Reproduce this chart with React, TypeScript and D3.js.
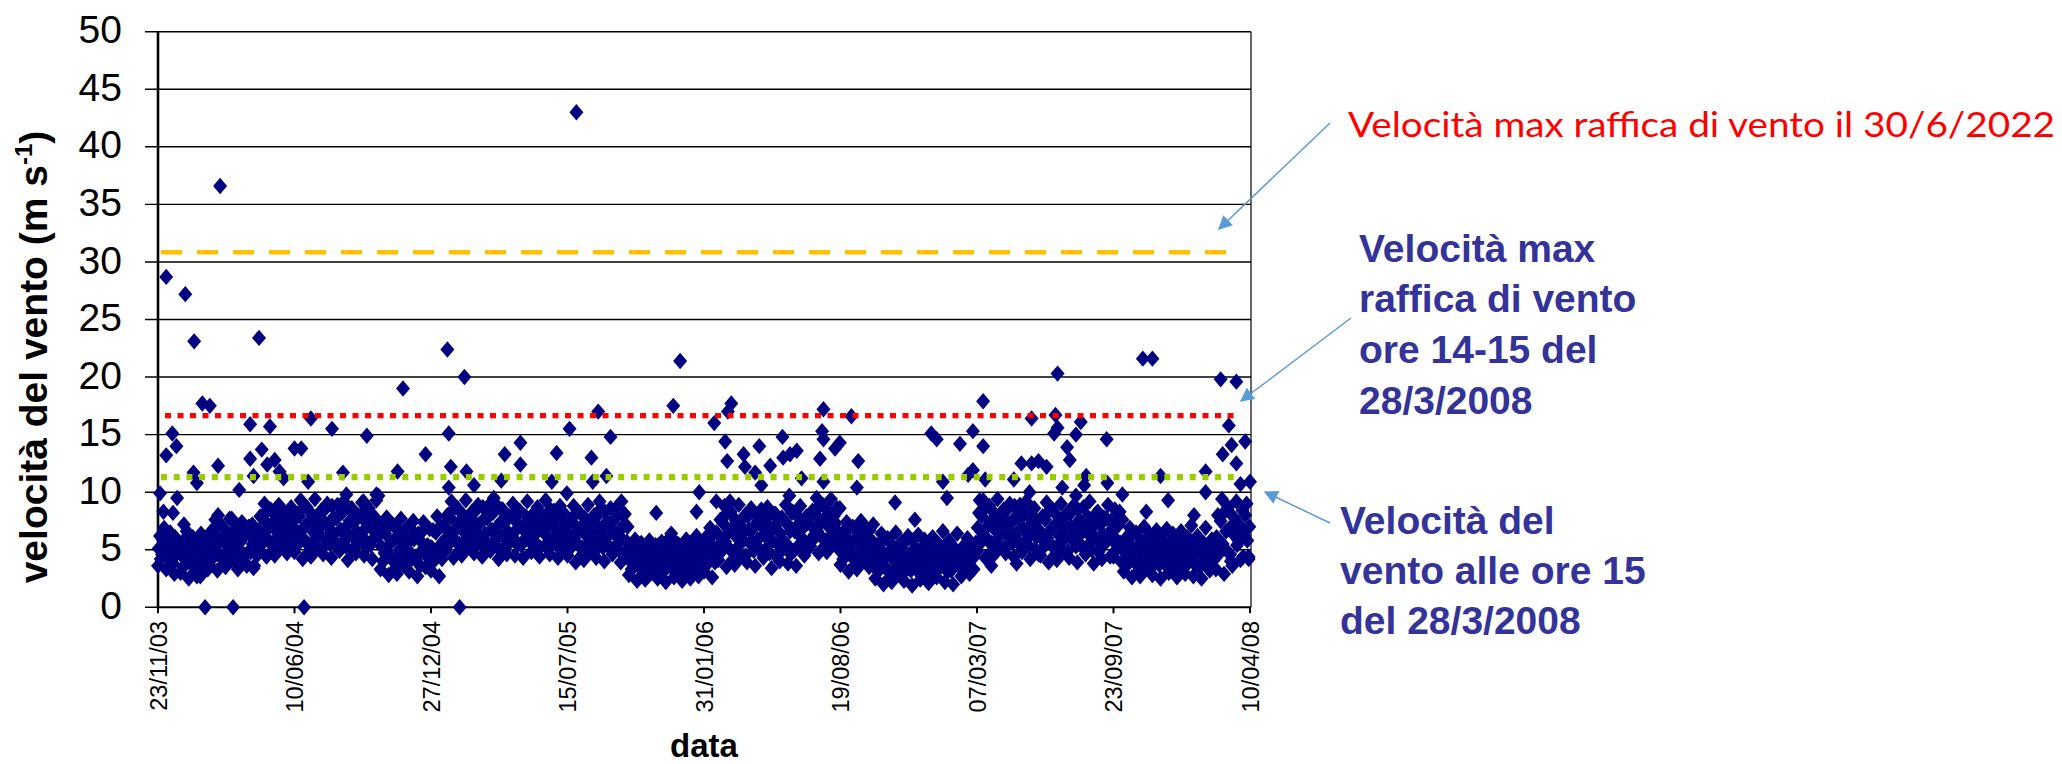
import React from "react";
import * as d3 from "d3";

const W = 2062;
const H = 764;

// x axis: dates, ticks every 200 days
const xTickLabels = ["23/11/03", "10/06/04", "27/12/04", "15/07/05", "31/01/06", "19/08/06", "07/03/07", "23/09/07", "10/04/08"];
const yTicks = [0, 5, 10, 15, 20, 25, 30, 35, 40, 45, 50];
const stepDays = 3;

// wind speed (m/s), one value every 3 days from each tick date
const wind0 = [3.6, 6.2, 4.6, 6.9, 3.3, 5.4, 6.5, 4.2, 2.9, 5.8, 4.9,
  3.0, 5.7, 4.2, 6.6, 2.5, 4.8, 6.1, 3.7, 2.7, 5.2, 6.4, 3.4, 4.5, 5.9,
  3.7, 6.6, 4.9, 7.6, 3.2, 5.6, 7.1, 4.4, 3.5, 6.2, 7.7, 4.1, 5.3, 6.9, 3.3, 5.9, 7.4, 4.6, 3.8, 6.4, 5.0, 7.2, 3.6, 5.5,
  4.9, 7.9, 6.0, 9.0, 4.4, 6.9, 8.5, 5.6, 4.5, 7.4, 8.9, 5.2, 6.5, 8.2, 4.7, 7.1, 8.7, 5.9];
const wind1 = [4.8, 8.1, 5.9, 9.3, 4.2, 7.0, 8.7, 5.5, 4.4, 7.6, 9.4, 5.1, 6.4, 8.4, 4.6, 7.3, 9.0, 6.1, 4.3, 7.8,
  5.7, 8.9, 4.9, 6.7, 9.2, 5.3, 4.1, 7.5, 8.6, 6.0, 4.7, 8.0, 5.8, 9.1, 4.5, 6.9, 8.3, 5.4, 4.2, 7.2, 9.3, 6.3,
  3.3, 6.6, 4.7, 7.8, 2.8, 5.6, 7.2, 4.2, 2.9, 6.1, 7.7, 3.7, 5.1, 6.9, 3.1, 5.9, 7.5, 4.4, 2.7, 6.3, 4.9, 7.4, 3.5, 5.4, 6.8];
const wind2 = [3.2, 6.7, 4.5, 7.9, 2.7, 5.5, 7.1,
  4.9, 8.0, 5.9, 9.2, 4.3, 6.9, 8.6, 5.5, 4.5, 7.5, 9.3, 5.2, 6.4, 8.3, 4.7, 7.2, 8.9, 6.1, 4.4, 7.7,
  5.7, 8.8, 4.9, 6.7, 9.1, 5.3, 4.2, 7.4, 8.5, 6.0, 4.6, 7.9, 5.8, 9.0, 4.5, 6.8, 8.2, 5.4, 4.3, 7.1,
  9.2, 6.2, 4.8, 8.1, 5.6, 8.7, 4.4, 7.0, 6.5, 9.3, 5.1, 4.6, 7.6, 8.4, 5.9, 4.3, 8.8, 6.6, 5.0, 7.3];
const wind3 = [4.5, 7.6, 5.6, 8.8, 3.9, 6.6, 8.2, 5.2, 4.1, 7.2, 8.9, 4.8, 6.0, 8.0, 4.3, 6.9, 8.5, 5.8, 4.0, 7.4,
  5.4, 8.6, 4.6, 6.4, 8.7, 5.0, 3.9, 7.0, 8.1, 5.7,
  2.8, 5.2, 3.7, 5.9, 2.3, 4.4, 5.6, 3.3, 2.4, 4.8, 5.8, 3.0, 4.0, 5.4, 2.5, 4.6, 5.7, 3.5, 2.2, 5.0,
  3.8, 6.0, 2.6, 4.2, 5.5, 3.2, 2.3, 4.9, 5.9, 3.6, 2.5, 5.3, 4.1, 6.2, 2.7, 4.5, 5.6];
const wind4 = [3.1, 6.1, 4.2, 6.9, 2.6, 5.0, 6.5,
  4.1, 7.6, 5.3, 8.8, 3.5, 6.5, 8.3, 4.8, 3.7, 7.1, 8.9, 4.4, 5.9, 8.0, 3.9, 6.8, 8.6, 5.6, 3.6, 7.4,
  5.1, 8.5, 4.3, 6.2, 8.7, 4.7, 3.4, 7.0, 8.1, 5.5, 4.0, 7.8, 5.7, 8.9, 3.8, 6.6, 8.2, 4.9, 3.6, 7.2,
  8.8, 6.0, 4.5, 7.9, 5.2,
  5.3, 8.4, 6.3, 9.5, 4.7, 7.3, 8.9, 5.8, 4.8, 7.8, 9.4, 5.5, 6.8, 8.6, 5.0];
const wind5 = [3.7, 6.5, 4.8, 7.4, 3.1, 5.5, 7.0, 4.3, 3.3, 6.1, 7.5, 4.0, 5.2, 6.8, 3.5, 5.8, 7.2,
  2.5, 5.4, 3.6, 6.4, 2.0, 4.4, 6.0, 3.1, 2.2, 4.9, 6.5, 2.8, 3.9, 5.7, 2.3, 4.6, 6.2, 3.4, 1.9, 5.1,
  3.7, 6.3, 2.4, 4.1, 5.9, 3.0, 2.1, 4.7, 6.1, 3.5, 2.6, 5.5, 4.0, 6.6, 2.2, 4.3, 5.8, 3.2, 2.0, 5.0,
  6.4, 3.8, 2.7, 5.3, 4.5, 6.0, 2.9, 4.8, 3.3, 5.6];
const wind6 = [4.9, 8.2, 6.0, 9.3, 4.3, 7.0, 8.8, 5.6, 4.5, 7.6, 9.4, 5.2, 6.5, 8.5, 4.7, 7.3, 9.0, 6.2, 4.4, 7.9,
  5.8, 8.9, 4.8, 6.8, 9.2, 5.4, 4.2, 7.5, 8.6, 6.1, 4.6,
  4.5, 7.9, 5.7, 9.1, 3.9, 6.7, 8.5, 5.2, 4.1, 7.3, 9.0, 4.8, 6.2, 8.2, 4.3, 7.0, 8.8, 5.9, 3.9, 7.6,
  5.4, 8.7, 4.6, 6.5, 9.2, 5.0, 3.8, 7.2, 8.3, 5.6, 4.2, 7.8, 6.0, 8.9, 4.4, 6.8];
const wind7 = [4.4, 7.5, 5.5, 8.3, 3.9,
  3.1, 6.0, 4.2, 6.9, 2.6, 4.9, 6.5, 3.7, 2.7, 5.5, 7.0, 3.4, 4.5, 6.3, 2.8, 5.2, 6.7, 4.0, 2.5, 5.8,
  3.9, 6.8, 3.0, 4.7, 6.4, 3.6, 2.6, 5.3, 6.6, 4.1, 2.9, 6.1, 4.4, 7.1, 2.7, 5.0, 6.2, 3.5, 2.5, 5.6,
  6.9, 4.3, 3.2, 5.9, 4.8,
  3.3, 8.0, 5.2, 9.4, 2.9, 6.6, 8.7, 4.6, 3.6, 7.3, 9.2, 5.8, 4.1, 8.4, 6.2, 9.0, 4.4];

// second reading set, one day after each of the above
const windB0 = [5.1, 4.2, 5.9, 4.7, 6.4, 4.3, 5.5, 3.8, 6.1, 4.9, 5.3,
  4.6, 3.5, 5.5, 4.2, 6.1, 3.7, 5.0, 3.1, 5.7, 4.4, 3.9, 5.2, 4.8, 3.3,
  5.4, 4.2, 6.4, 4.9, 7.1, 4.4, 5.9, 3.7, 6.6, 5.2, 4.6, 6.0, 4.0, 6.8, 5.0, 5.7, 4.3, 6.3, 3.6, 7.0, 4.8, 5.5, 6.2, 4.5,
  6.7, 5.4, 7.7, 6.2, 8.4, 5.7, 7.2, 5.0, 8.0, 6.5, 5.9, 7.5, 6.9, 5.3, 8.2, 6.0, 7.4, 5.6];
const windB1 = [6.8, 5.4, 7.9, 6.2, 8.7, 5.7, 7.3, 4.8, 8.1, 6.5, 5.9, 7.6, 6.9, 5.1, 8.4, 6.0, 7.1, 5.5, 8.8, 6.4,
  7.7, 5.3, 6.7, 8.2, 5.8, 7.0, 6.3, 8.5, 5.0, 7.4, 6.6, 5.6, 8.0, 6.1, 7.5, 5.2, 8.6, 6.9, 5.9, 7.8, 6.4, 7.2,
  5.3, 4.0, 6.4, 4.8, 7.1, 4.2, 5.8, 3.4, 6.7, 5.0, 4.5, 6.1, 5.5, 3.8, 6.9, 4.6, 5.9, 4.1, 6.4, 3.6, 5.6, 4.9, 7.0, 4.3, 5.2];
const windB2 = [5.2, 4.0, 6.5, 4.7, 7.0, 4.2, 5.8,
  6.8, 5.4, 7.8, 6.3, 8.6, 5.7, 7.3, 5.0, 8.1, 6.5, 5.9, 7.6, 7.0, 5.2, 8.3, 6.1, 7.2, 5.5, 8.7, 6.4,
  7.7, 5.3, 6.7, 8.2, 5.8, 7.0, 6.3, 8.5, 5.1, 7.4, 6.6, 5.6, 8.0, 6.0, 7.5, 5.4, 8.4, 6.9, 5.8, 7.9,
  6.2, 7.1, 5.5, 8.2, 6.4, 7.6, 5.2, 8.0, 6.7, 7.3, 5.7, 8.5, 6.1, 7.0, 5.4, 7.8, 6.5, 8.3, 5.9, 7.2];
const windB3 = [6.4, 5.1, 7.4, 6.0, 8.2, 5.4, 6.9, 4.6, 7.8, 6.2, 5.6, 7.1, 6.6, 4.9, 7.9, 5.8, 6.8, 5.2, 8.3, 6.1,
  7.3, 5.0, 6.5, 7.7, 5.5, 6.7, 6.0, 8.0, 4.8, 7.0,
  4.2, 3.3, 5.0, 3.9, 5.6, 3.4, 4.6, 2.8, 5.3, 4.0, 3.7, 4.8, 4.4, 3.0, 5.4, 3.8, 4.5, 3.2, 5.7, 4.1,
  4.9, 3.3, 4.3, 5.2, 3.6, 4.6, 4.0, 5.5, 3.1, 4.7, 4.3, 3.5, 5.1, 3.9, 5.0, 3.4, 4.4];
const windB4 = [4.8, 3.7, 5.7, 4.3, 6.3, 3.9, 5.2,
  6.2, 4.8, 7.3, 5.7, 8.2, 5.1, 6.8, 4.2, 7.6, 6.0, 5.4, 7.0, 6.5, 4.5, 7.9, 5.6, 6.7, 4.9, 8.0, 5.9,
  7.2, 4.7, 6.3, 7.7, 5.3, 6.9, 5.8, 8.1, 4.4, 7.4, 6.4, 5.0, 7.5, 5.5, 7.1, 4.6, 8.3, 6.6, 5.2, 7.8,
  6.1, 6.9, 4.9, 7.3, 5.7,
  7.1, 5.9, 8.1, 6.6, 8.8, 6.1, 7.6, 5.4, 8.4, 6.9, 6.3, 7.9, 7.3, 5.7, 8.6];
const windB5 = [5.3, 4.2, 6.2, 4.8, 6.9, 4.4, 5.8, 3.7, 6.5, 5.0, 4.6, 6.0, 5.5, 3.9, 6.7, 4.7, 5.6,
  4.3, 3.1, 5.1, 3.8, 5.9, 3.3, 4.7, 2.6, 5.4, 4.0, 3.5, 4.9, 4.5, 2.9, 5.6, 3.7, 4.4, 3.2, 5.8, 4.1,
  5.0, 3.0, 4.2, 5.3, 3.6, 4.6, 3.9, 5.5, 2.8, 4.8, 4.0, 3.4, 5.2, 3.8, 4.9, 3.1, 5.7, 4.3, 3.5, 5.0,
  4.1, 4.6, 3.3, 5.1, 3.9, 5.4, 3.2, 4.8, 4.4, 5.2];
const windB6 = [6.9, 5.5, 7.9, 6.3, 8.7, 5.8, 7.4, 4.9, 8.2, 6.6, 6.0, 7.6, 7.1, 5.2, 8.4, 6.2, 7.3, 5.6, 8.8, 6.5,
  7.7, 5.3, 6.8, 8.1, 5.9, 7.0, 6.4, 8.5, 5.1, 7.5, 6.7,
  6.5, 5.2, 7.6, 6.0, 8.4, 5.4, 7.0, 4.6, 7.9, 6.2, 5.7, 7.3, 6.8, 4.9, 8.1, 5.9, 6.9, 5.3, 8.5, 6.3,
  7.4, 5.0, 6.6, 7.8, 5.6, 7.1, 6.1, 8.2, 4.8, 7.2, 6.4, 5.5, 7.7, 6.0, 7.5, 5.8];
const windB7 = [6.1, 5.0, 7.1, 5.6, 7.6,
  4.8, 3.6, 5.6, 4.3, 6.3, 3.9, 5.2, 3.2, 5.9, 4.5, 4.0, 5.4, 4.9, 3.4, 6.0, 4.2, 5.1, 3.7, 6.2, 4.6,
  5.5, 3.5, 4.7, 5.8, 4.1, 5.0, 4.4, 6.1, 3.3, 5.3, 4.8, 3.8, 5.7, 4.3, 5.4, 3.6, 6.0, 4.7, 3.9, 5.2,
  4.5, 5.0, 3.7, 5.5, 4.2,
  6.1, 4.6, 7.5, 5.5, 8.3, 4.9, 6.8, 4.0, 7.9, 6.2, 5.4, 7.2, 6.6, 4.4, 8.0, 5.8, 7.0];

const windSegments = [wind0, wind1, wind2, wind3, wind4, wind5, wind6, wind7];
const windSegmentsB = [windB0, windB1, windB2, windB3, windB4, windB5, windB6, windB7];

// isolated readings: day since 23/11/03 and speed
const outlierDay = [12, 40, 53, 91, 148, 613,
  65, 76, 135, 164, 224, 255, 306, 21, 12, 27, 200, 210, 88, 135, 152, 160, 171, 178, 52, 57, 119, 140, 184, 220, 271,
  3, 28, 8, 22, 38, 88, 108, 320, 276, 267, 301, 69, 110, 214, 140, 62,
  424, 449, 359, 426, 603, 645, 392, 508, 531, 531, 584, 635, 351, 429, 426, 452, 463, 503, 577, 599, 323, 492, 442,
  765, 755, 840, 835, 815, 663, 831, 915, 834, 858, 881, 860, 897, 916, 926, 936, 657, 875, 884, 943, 793, 925,
  679, 730, 752, 818, 838, 789, 637, 647,
  1209, 975, 1016, 1280, 973, 975, 992, 999, 970, 1026, 1133, 1141, 1175, 1194, 1209, 1024, 1080, 975, 1150, 1156,
  1194, 1187, 1212, 1204, 1254, 1265, 1280, 1290, 1277, 1109, 1258, 1221,
  1443, 1457, 1318, 1557, 1580, 1569, 1315, 1352, 1318, 1313, 1345, 1390, 1332, 1336, 1302, 1560, 1573, 1593, 1580,
  1360, 1357, 1391, 1469, 1535, 1535, 1586, 1600, 1325, 1345, 1413, 1480, 1518, 1402, 1448, 1598];
const outlierSpeed = [28.7, 27.2, 23.1, 36.6, 23.4, 43.0,
  17.7, 17.5, 15.9, 15.7, 16.4, 15.5, 14.9, 15.1, 13.2, 14.0, 13.8, 13.8, 12.3, 12.9, 13.7, 12.4, 12.8, 11.8, 11.7, 10.8, 10.2, 11.4, 11.2, 10.9, 11.7,
  9.9, 9.5, 8.3, 8.2, 7.2, 8.0, 7.7, 9.8, 9.8, 8.8, 9.2, 0, 0, 0, 3.4, 2.7,
  22.4, 20.0, 19.0, 15.1, 15.5, 17.0, 13.3, 13.3, 14.3, 12.4, 13.4, 13.0, 11.8, 12.2, 10.4, 11.8, 10.6, 11.0, 10.9, 9.9, 9.7, 9.5, 0,
  21.4, 17.5, 17.7, 17.0, 16.0, 14.8, 14.4, 14.8, 12.7, 13.3, 14.0, 12.2, 12.3, 13.0, 13.3, 13.6, 11.4, 11.7, 10.6, 11.2, 10.0, 9.7,
  9.2, 8.2, 6.4, 9.2, 9.2, 8.3, 10.9, 9.2,
  17.9, 17.2, 16.6, 16.4, 15.3, 14.6, 13.8, 14.3, 12.9, 12.7, 15.1, 14.6, 14.2, 15.3, 14.0, 10.4, 9.1, 10.9, 10.9, 9.5,
  11.9, 11.5, 11.1, 9.3, 11.1, 12.5, 12.5, 12.7, 10.0, 7.6, 3.8, 3.6,
  21.6, 21.6, 20.3, 19.8, 19.6, 15.8, 16.7, 16.1, 15.6, 15.1, 15.0, 14.6, 13.9, 12.8, 12.2, 13.3, 14.1, 14.4, 12.5,
  11.4, 10.6, 10.8, 11.4, 11.8, 10.0, 10.7, 10.9, 10.4, 9.7, 9.8, 9.3, 8.0, 8.5, 8.3, 4.2];

// reference levels (m/s)
const gust2022 = 30.85;
const gust2008 = 16.65;
const wind2008 = 11.3;

const parse = d3.utcParse("%d/%m/%y");

const App = () => {
  const tickDates = xTickLabels.map((s) => parse(s) as Date);
  const start = tickDates[0];
  const end = tickDates[tickDates.length - 1];

  const x = d3.scaleUtc().domain([start, end]).range([158, 1250]);
  const y = d3.scaleLinear().domain([0, 50]).range([607.3, 31.7]);

  const points: { d: Date; v: number }[] = [];
  windSegments.forEach((seg, k) => {
    seg.forEach((v, i) => points.push({ d: d3.utcDay.offset(tickDates[k], i * stepDays), v }));
  });
  windSegmentsB.forEach((seg, k) => {
    seg.forEach((v, i) => points.push({ d: d3.utcDay.offset(tickDates[k], i * stepDays + 1), v }));
  });
  outlierDay.forEach((day, i) => points.push({ d: d3.utcDay.offset(start, day), v: outlierSpeed[i] }));

  const diamond = "M0,-8.2L7,0L0,8.2L-7,0Z";
  const left = x.range()[0];
  const right = x.range()[1] + 1;
  const arrowColor = "#5B9BD5";
  const blue = "#333399";
  const arial = "Liberation Sans, Arial, sans-serif";

  return (
    <svg width={W} height={H} style={{ position: "absolute", left: 0, top: 0, background: "#fff" }}>
      <defs>
        <marker id="head" viewBox="0 0 10 10" refX="9" refY="5" markerWidth="18" markerHeight="14" orient="auto" markerUnits="userSpaceOnUse">
          <path d="M0,0L10,5L0,10Z" fill={arrowColor} />
        </marker>
      </defs>

      {/* grid + y ticks */}
      {yTicks.map((t) => (
        <line key={t} x1={145} x2={right} y1={y(t)} y2={y(t)} stroke="#000" strokeWidth={1.4} />
      ))}
      {yTicks.map((t) => (
        <text key={"l" + t} x={122} y={y(t) + 11.6} textAnchor="end" fontFamily={arial} fontSize={39}>
          {t}
        </text>
      ))}
      <line x1={right} x2={right} y1={y(50)} y2={y(0)} stroke="#000" strokeWidth={1.2} />
      <line x1={left} x2={left} y1={y(50)} y2={y(0) + 1} stroke="#000" strokeWidth={2.6} />
      <line x1={left} x2={right} y1={y(0)} y2={y(0)} stroke="#000" strokeWidth={1.8} />

      {/* x ticks */}
      {tickDates.map((d, i) => (
        <g key={i}>
          <line x1={x(d)} x2={x(d)} y1={y(0)} y2={y(0) + 6} stroke="#000" strokeWidth={2} />
          <text transform={`translate(${x(d) + 8.5},621) rotate(-90)`} textAnchor="end" fontFamily={arial} fontSize={23.5}>
            {xTickLabels[i]}
          </text>
        </g>
      ))}

      {/* points */}
      <g fill="#000080">
        {points.map((p, i) => (
          <path key={i} d={diamond} transform={`translate(${x(p.d)},${y(p.v)})`} />
        ))}
      </g>

      {/* reference lines */}
      <line x1={161} x2={1240} y1={y(gust2022)} y2={y(gust2022)} stroke="#FFC000" strokeWidth={4.5} strokeDasharray="21,15" />
      <line x1={165} x2={1240} y1={y(gust2008)} y2={y(gust2008)} stroke="#FF0000" strokeWidth={5.3} strokeDasharray="6,6.5" />
      <line x1={161} x2={1235} y1={y(wind2008)} y2={y(wind2008)} stroke="#99CC00" strokeWidth={6.3} strokeDasharray="6,6.7" />

      {/* axis titles */}
      <text transform="translate(47,357) rotate(-90)" textAnchor="middle" fontFamily={arial} fontWeight="bold" fontSize={39}>
        velocità del vento (m s<tspan dy={-15} fontSize={24}>-1</tspan>
        <tspan dy={15}>)</tspan>
      </text>
      <text x={704} y={757} textAnchor="middle" fontFamily={arial} fontWeight="bold" fontSize={33}>
        data
      </text>

      {/* annotations */}
      <text x={1348} y={137} fill="#FF0000" fontFamily="Lato, 'Open Sans', sans-serif" fontSize={35} textLength={707} lengthAdjust="spacingAndGlyphs">
        Velocità max raffica di vento il 30/6/2022
      </text>
      <g fill={blue} fontFamily={arial} fontWeight="bold" fontSize={39}>
        <text x={1359} y={262}>Velocità max</text>
        <text x={1359} y={312}>raffica di vento</text>
        <text x={1359} y={363}>ore 14-15 del</text>
        <text x={1359} y={414}>28/3/2008</text>
        <text x={1340} y={534}>Velocità del</text>
        <text x={1340} y={584}>vento alle ore 15</text>
        <text x={1340} y={634}>del 28/3/2008</text>
      </g>
      <g stroke={arrowColor} strokeWidth={1.5} markerEnd="url(#head)">
        <line x1={1330} y1={123} x2={1219} y2={229} />
        <line x1={1351} y1={318} x2={1241} y2={401} />
        <line x1={1330} y1={523} x2={1265} y2={492} />
      </g>
    </svg>
  );
};

export default App;
